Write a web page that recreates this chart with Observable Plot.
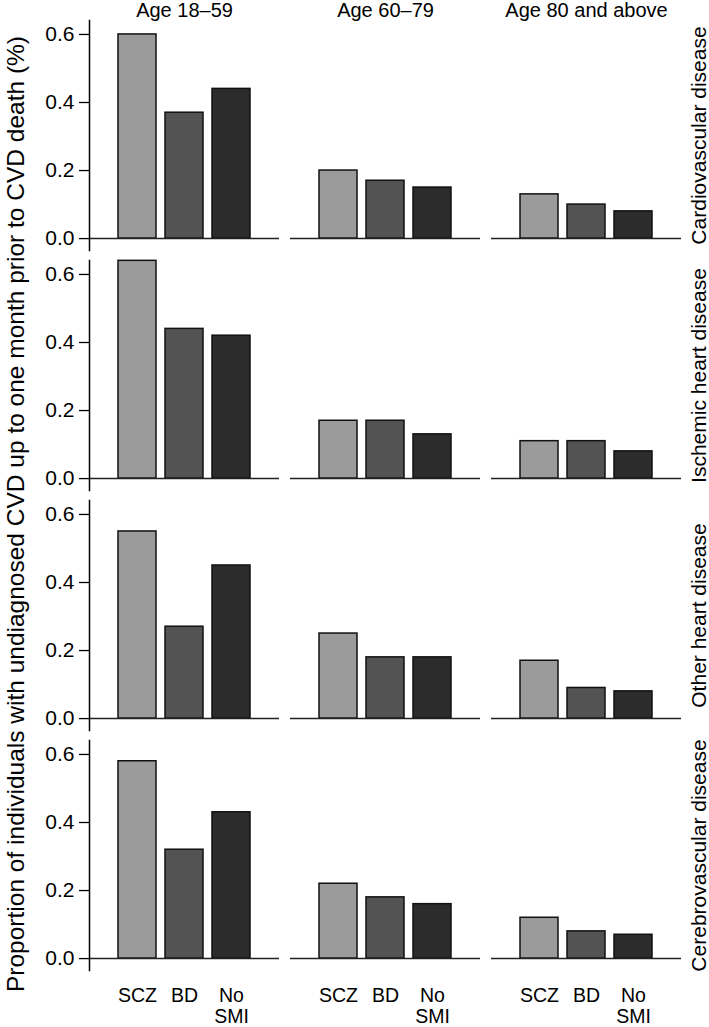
<!DOCTYPE html>
<html>
<head>
<meta charset="utf-8">
<script src="https://cdn.jsdelivr.net/npm/d3@7"></script>
<script src="https://cdn.jsdelivr.net/npm/@observablehq/plot@0.6"></script>
<style>
  html, body { margin: 0; padding: 0; background: #fff; }
  #chart { position: relative; width: 709px; height: 1027px; }
</style>
</head>
<body>
<div id="chart"></div>
<script>
const ages = ["Age 18–59", "Age 60–79", "Age 80 and above"];
const diseases = ["Cardiovascular disease", "Ischemic heart disease", "Other heart disease", "Cerebrovascular disease"];
const groups = ["SCZ", "BD", "No SMI"];
const groupLabels = ["SCZ", "BD", "No\nSMI"];
const groupColors = ["#9b9b9b", "#535353", "#2c2c2c"];
const yTicks = [0, 0.2, 0.4, 0.6];
const yTitle = "Proportion of individuals with undiagnosed CVD up to one month prior to CVD death (%)";

// values[age][group]
const cardiovascular = [[0.60, 0.37, 0.44], [0.20, 0.17, 0.15], [0.13, 0.10, 0.08]];
const ischemic       = [[0.64, 0.44, 0.42], [0.17, 0.17, 0.13], [0.11, 0.11, 0.08]];
const otherHeart     = [[0.55, 0.27, 0.45], [0.25, 0.18, 0.18], [0.17, 0.09, 0.08]];
const cerebro        = [[0.58, 0.32, 0.43], [0.22, 0.18, 0.16], [0.12, 0.08, 0.07]];
const seriesByDisease = [cardiovascular, ischemic, otherHeart, cerebro];

const data = [];
diseases.forEach((disease, di) => {
  ages.forEach((age, ai) => {
    groups.forEach((group, gi) => {
      data.push({disease, age, group, value: seriesByDisease[di][ai][gi]});
    });
  });
});

const font = "'Liberation Sans', Arial, Helvetica, sans-serif";

const chart = Plot.plot({
  width: 709,
  height: 1027,
  marginTop: 20,
  marginBottom: 57,
  marginLeft: 89,
  marginRight: 28,
  style: {fontFamily: font, fontSize: "20px", color: "#000", background: "#fff", overflow: "visible"},
  fx: {domain: ages, paddingInner: 11 / 201, paddingOuter: 0, axis: null},
  fy: {domain: diseases, paddingInner: 10 / 240, paddingOuter: 0, axis: null},
  x: {domain: groups, paddingInner: 0.2, paddingOuter: 0.62, axis: null},
  y: {domain: [-0.035, 0.641], nice: false, axis: null},
  color: {domain: groups, range: groupColors},
  marks: [
    Plot.barY(data, {fx: "age", fy: "disease", x: "group", y: "value", fill: "group", stroke: "#111", strokeWidth: 1.5}),
    Plot.ruleY([0], {stroke: "#222", strokeWidth: 1.5}),
    Plot.frame({anchor: "left", facetAnchor: "left", stroke: "#000", strokeWidth: 1.5}),
    Plot.axisY({anchor: "left", ticks: yTicks, tickFormat: d => d.toFixed(1), tickSize: 10, tickPadding: 5, fontSize: 21, label: null, stroke: "#000", strokeWidth: 1.3}),
    Plot.axisX({anchor: "bottom", tickSize: 0, tickPadding: 17, fontSize: 19.5, lineHeight: 1.05, label: null,
      tickFormat: d => groupLabels[groups.indexOf(d)]}),
    Plot.axisFx({anchor: "top", tickSize: 0, tickPadding: 4, fontSize: 20, label: null}),
    Plot.text(diseases, {fy: d => d, text: d => d, frameAnchor: "right", textAnchor: "middle", rotate: -90, dx: 18, fontSize: 21, facetAnchor: "right"})
  ]
});

const svg = chart.tagName.toLowerCase() === "svg" ? chart : chart.querySelector("svg");
d3.select(svg).append("text")
  .attr("transform", "translate(15,514) rotate(-90)")
  .attr("text-anchor", "middle")
  .attr("dominant-baseline", "central")
  .attr("font-family", font)
  .attr("font-size", 24.5)
  .attr("fill", "#000")
  .text(yTitle);

document.getElementById("chart").appendChild(chart);
</script>
</body>
</html>
